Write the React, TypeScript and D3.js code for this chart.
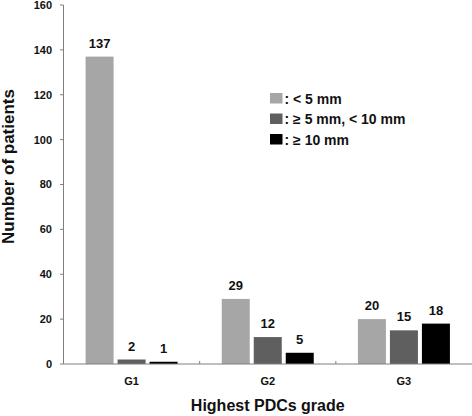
import React from "react";
import * as d3 from "d3";

const categories = ["G1", "G2", "G3"];
const seriesNames = [": < 5 mm", ": \u2265 5 mm, < 10 mm", ": \u2265 10 mm"];
const seriesLt5 = [137, 29, 20];
const series5to10 = [2, 12, 15];
const seriesGe10 = [1, 5, 18];
const yTicks = [0, 20, 40, 60, 80, 100, 120, 140, 160];
const colors = ["#a6a6a6", "#5f5f5f", "#000000"];

const W = 472;
const H = 416;
const FONT = "'Liberation Sans', Arial, sans-serif";

export default function App() {
  const left = 63.5;
  const right = 472;
  const top = 5;
  const bottom = 364;
  const series = [seriesLt5, series5to10, seriesGe10];

  const y = d3.scaleLinear().domain([0, 160]).range([bottom, top]);
  const x0 = d3.scaleBand<string>().domain(categories).range([left, right]).padding(0);
  const bw0 = x0.bandwidth();
  const inner = 92;
  const x1 = d3
    .scaleBand<number>()
    .domain([0, 1, 2])
    .range([(bw0 - inner) / 2, (bw0 + inner) / 2])
    .paddingInner(0.125)
    .paddingOuter(0);

  return (
    <svg
      width={W}
      height={H}
      style={{ position: "absolute", left: 0, top: 0, background: "#fff" }}
      fontFamily={FONT}
    >
      {/* bars */}
      {categories.map((c, ci) => (
        <g key={c} transform={`translate(${x0(c)},0)`}>
          {series.map((s, si) => (
            <g key={si}>
              <rect
                x={x1(si)}
                y={y(s[ci])}
                width={x1.bandwidth()}
                height={bottom - y(s[ci])}
                fill={colors[si]}
              />
              <text
                x={(x1(si) as number) + x1.bandwidth() / 2}
                y={y(s[ci]) - 9}
                textAnchor="middle"
                fontSize={13}
                fontWeight="bold"
                fill="#111"
              >
                {s[ci]}
              </text>
            </g>
          ))}
        </g>
      ))}

      {/* y axis */}
      <line x1={left} x2={left} y1={top} y2={bottom} stroke="#7f7f7f" strokeWidth={1} />
      {yTicks.map((t) => (
        <g key={t}>
          <line x1={left - 3.5} x2={left} y1={y(t)} y2={y(t)} stroke="#7f7f7f" strokeWidth={1} />
          <text
            x={52}
            y={y(t)}
            dy="0.36em"
            textAnchor="end"
            fontSize={11}
            fontWeight="bold"
            fill="#111"
          >
            {t}
          </text>
        </g>
      ))}

      {/* x axis */}
      <line x1={left} x2={right} y1={bottom} y2={bottom} stroke="#7f7f7f" strokeWidth={1} />
      {categories.slice(1).map((c) => (
        <line
          key={c}
          x1={x0(c)}
          x2={x0(c)}
          y1={bottom - 3}
          y2={bottom}
          stroke="#7f7f7f"
          strokeWidth={1}
        />
      ))}
      {categories.map((c) => (
        <text
          key={c}
          x={(x0(c) as number) + bw0 / 2}
          y={385}
          textAnchor="middle"
          fontSize={11}
          fontWeight="bold"
          fill="#111"
        >
          {c}
        </text>
      ))}

      {/* axis titles */}
      <text
        x={(left + right) / 2}
        y={411}
        textAnchor="middle"
        fontSize={16}
        fontWeight="bold"
        fill="#111"
      >
        Highest PDCs grade
      </text>
      <text
        transform={`translate(14,166.5) rotate(-90)`}
        textAnchor="middle"
        fontSize={17}
        fontWeight="bold"
        fill="#111"
      >
        Number of patients
      </text>

      {/* legend */}
      {seriesNames.map((n, i) => (
        <g key={n} transform={`translate(270,${93 + i * 20.5})`}>
          <rect x={0} y={0} width={12.5} height={10.5} fill={colors[i]} />
          <text x={14.5} y={10.5} fontSize={14} fontWeight="bold" fill="#111">
            {n}
          </text>
        </g>
      ))}
    </svg>
  );
}
